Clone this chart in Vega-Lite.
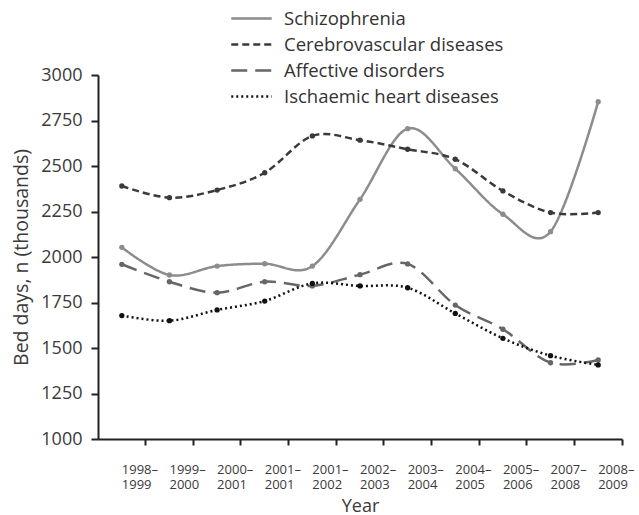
{
  "$schema": "https://vega.github.io/schema/vega-lite/v6.json",
  "width": 524,
  "height": 364,
  "autosize": {"type": "none"},
  "padding": {"left": 98, "top": 75, "right": 17, "bottom": 76},
  "background": "white",
  "config": {
    "font": "Open Sans",
    "view": {"stroke": null},
    "axis": {"grid": false, "domainColor": "#222", "tickColor": "#222", "domainWidth": 2, "tickWidth": 2, "labelColor": "#3a3a3a", "titleColor": "#3a3a3a", "titleFontWeight": "normal"}
  },
  "data": {
    "values": [
      {"period": "1998–1999", "series": "Schizophrenia", "value": 2053},
      {"period": "1999–2000", "series": "Schizophrenia", "value": 1901},
      {"period": "2000–2001", "series": "Schizophrenia", "value": 1950},
      {"period": "2001–2001", "series": "Schizophrenia", "value": 1963},
      {"period": "2001–2002", "series": "Schizophrenia", "value": 1950},
      {"period": "2002–2003", "series": "Schizophrenia", "value": 2317},
      {"period": "2003–2004", "series": "Schizophrenia", "value": 2705},
      {"period": "2004–2005", "series": "Schizophrenia", "value": 2485},
      {"period": "2005–2006", "series": "Schizophrenia", "value": 2235},
      {"period": "2007–2008", "series": "Schizophrenia", "value": 2139},
      {"period": "2008–2009", "series": "Schizophrenia", "value": 2853},
      {"period": "1998–1999", "series": "Cerebrovascular diseases", "value": 2390},
      {"period": "1999–2000", "series": "Cerebrovascular diseases", "value": 2326},
      {"period": "2000–2001", "series": "Cerebrovascular diseases", "value": 2368},
      {"period": "2001–2001", "series": "Cerebrovascular diseases", "value": 2463},
      {"period": "2001–2002", "series": "Cerebrovascular diseases", "value": 2665},
      {"period": "2002–2003", "series": "Cerebrovascular diseases", "value": 2642},
      {"period": "2003–2004", "series": "Cerebrovascular diseases", "value": 2592},
      {"period": "2004–2005", "series": "Cerebrovascular diseases", "value": 2537},
      {"period": "2005–2006", "series": "Cerebrovascular diseases", "value": 2363},
      {"period": "2007–2008", "series": "Cerebrovascular diseases", "value": 2244},
      {"period": "2008–2009", "series": "Cerebrovascular diseases", "value": 2244},
      {"period": "1998–1999", "series": "Affective disorders", "value": 1960},
      {"period": "1999–2000", "series": "Affective disorders", "value": 1864},
      {"period": "2000–2001", "series": "Affective disorders", "value": 1804},
      {"period": "2001–2001", "series": "Affective disorders", "value": 1864},
      {"period": "2001–2002", "series": "Affective disorders", "value": 1841},
      {"period": "2002–2003", "series": "Affective disorders", "value": 1903},
      {"period": "2003–2004", "series": "Affective disorders", "value": 1962},
      {"period": "2004–2005", "series": "Affective disorders", "value": 1736},
      {"period": "2005–2006", "series": "Affective disorders", "value": 1603},
      {"period": "2007–2008", "series": "Affective disorders", "value": 1419},
      {"period": "2008–2009", "series": "Affective disorders", "value": 1434},
      {"period": "1998–1999", "series": "Ischaemic heart diseases", "value": 1678},
      {"period": "1999–2000", "series": "Ischaemic heart diseases", "value": 1650},
      {"period": "2000–2001", "series": "Ischaemic heart diseases", "value": 1709},
      {"period": "2001–2001", "series": "Ischaemic heart diseases", "value": 1758},
      {"period": "2001–2002", "series": "Ischaemic heart diseases", "value": 1855},
      {"period": "2002–2003", "series": "Ischaemic heart diseases", "value": 1841},
      {"period": "2003–2004", "series": "Ischaemic heart diseases", "value": 1831},
      {"period": "2004–2005", "series": "Ischaemic heart diseases", "value": 1690},
      {"period": "2005–2006", "series": "Ischaemic heart diseases", "value": 1553},
      {"period": "2007–2008", "series": "Ischaemic heart diseases", "value": 1458},
      {"period": "2008–2009", "series": "Ischaemic heart diseases", "value": 1407}
    ]
  },
  "mark": {"type": "line", "interpolate": "cardinal", "strokeWidth": 2.5, "point": {"filled": true, "size": 28}},
  "encoding": {
    "x": {
      "field": "period", "type": "nominal", "sort": null,
      "scale": {"type": "band", "paddingInner": 0, "paddingOuter": 0},
      "axis": {"title": "Year", "bandPosition": 1, "labelAngle": 0, "labelAlign": "left", "labelFontSize": 13, "labelLineHeight": 15, "labelPadding": 18, "tickSize": 6, "labelExpr": "[slice(datum.label, 0, 5), slice(datum.label, 5)]", "titleFontSize": 18, "titlePadding": 6}
    },
    "y": {
      "field": "value", "type": "quantitative",
      "scale": {"domain": [1000, 3000], "nice": false, "zero": false},
      "axis": {"title": "Bed days, n (thousands)", "format": "d", "values": [1000, 1250, 1500, 1750, 2000, 2250, 2500, 2750, 3000], "labelFontSize": 18, "labelPadding": 9, "tickSize": 7, "titleFontSize": 19.5, "titlePadding": 9}
    },
    "color": {
      "field": "series", "type": "nominal",
      "scale": {"domain": ["Schizophrenia", "Cerebrovascular diseases", "Affective disorders", "Ischaemic heart diseases"], "range": ["#8c8c8c", "#3a3a3a", "#666666", "#111111"]},
      "legend": {"title": null, "orient": "none", "legendX": 137, "legendY": -73, "symbolType": "M-1.35,0H1.35", "symbolSize": 900, "symbolStrokeWidth": 2.5, "symbolFillColor": "transparent", "labelFontSize": 18.5, "labelLimit": 400, "labelColor": "#333", "labelOffset": 16, "rowPadding": 0}
    },
    "strokeDash": {
      "field": "series", "type": "nominal",
      "scale": {"domain": ["Schizophrenia", "Cerebrovascular diseases", "Affective disorders", "Ischaemic heart diseases"], "range": [[1, 0], [7, 4], [16, 8], [2, 3]]},
      "legend": {"title": null, "orient": "none", "legendX": 137, "legendY": -73, "symbolType": "M-1.35,0H1.35", "symbolSize": 900, "symbolStrokeWidth": 2.5, "symbolFillColor": "transparent", "labelFontSize": 18.5, "labelLimit": 400, "labelColor": "#333", "labelOffset": 16, "rowPadding": 0}
    }
  }
}
